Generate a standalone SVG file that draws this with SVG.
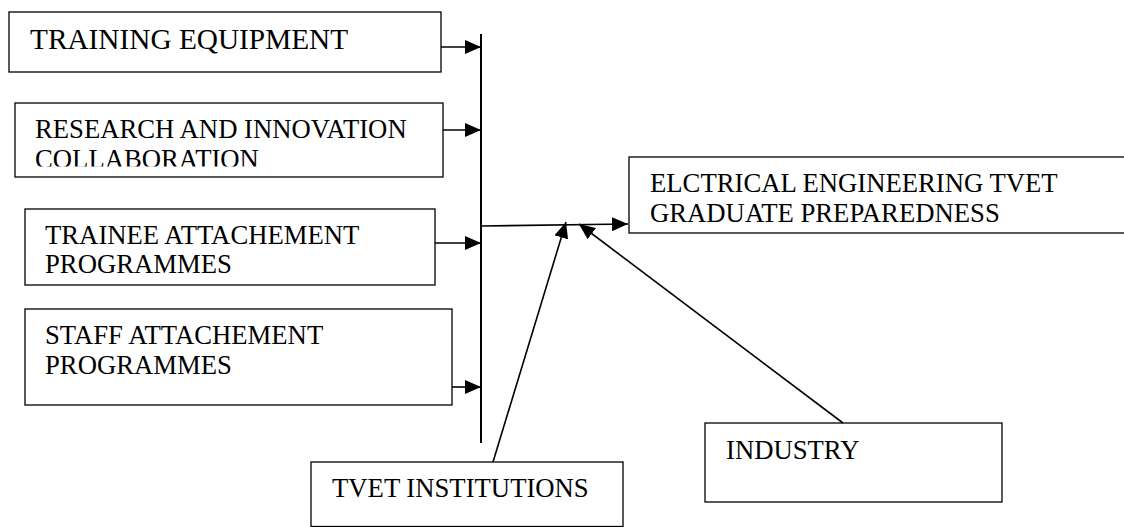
<svg xmlns="http://www.w3.org/2000/svg" width="1124" height="527" viewBox="0 0 1124 527">
  <style>
    .box { fill: #ffffff; stroke: #000000; stroke-width: 1.3; }
    .conn { stroke: #000000; stroke-width: 1.6; fill: none; }
    .bus { stroke: #000000; stroke-width: 2; fill: none; }
  </style>
  <defs>
    <marker id="arrow" viewBox="0 0 16 14" refX="16" refY="7" markerWidth="16" markerHeight="14" markerUnits="userSpaceOnUse" orient="auto">
      <path d="M0,0 L16,7 L0,14 z" fill="#000000"/>
    </marker>
    <clipPath id="clip2">
      <rect x="15" y="103" width="428" height="63.5"/>
    </clipPath>
  </defs>

  <g font-family="Liberation Serif, Times New Roman, DejaVu Serif, serif" font-size="26.7" fill="#000000">
  <g id="training-equipment">
    <rect class="box" x="9" y="12" width="432" height="60"/>
    <text x="30" y="49" font-size="29.3">TRAINING EQUIPMENT</text>
  </g>

  <g id="research-innovation">
    <rect class="box" x="15" y="103" width="428" height="74"/>
    <g clip-path="url(#clip2)">
      <text x="35" y="138">RESEARCH AND INNOVATION</text>
      <text x="35" y="168">COLLABORATION</text>
    </g>
  </g>

  <g id="trainee-attachement">
    <rect class="box" x="25" y="209" width="410" height="76"/>
    <text x="45" y="244">TRAINEE ATTACHEMENT</text>
    <text x="45" y="273">PROGRAMMES</text>
  </g>

  <g id="staff-attachement">
    <rect class="box" x="25" y="309" width="427" height="96"/>
    <text x="45" y="344">STAFF ATTACHEMENT</text>
    <text x="45" y="374">PROGRAMMES</text>
  </g>

  <g id="graduate-preparedness">
    <rect class="box" x="629" y="157" width="500" height="76"/>
    <text x="650" y="192">ELCTRICAL ENGINEERING TVET</text>
    <text x="650" y="222">GRADUATE PREPAREDNESS</text>
  </g>

  <g id="tvet-institutions">
    <rect class="box" x="311" y="462" width="312" height="64.5"/>
    <text x="332" y="497">TVET INSTITUTIONS</text>
  </g>

  <g id="industry">
    <rect class="box" x="705" y="423" width="297" height="79"/>
    <text x="726" y="459">INDUSTRY</text>
  </g>
  </g>

  <g id="connectors">
    <line class="bus" x1="481" y1="34" x2="481" y2="443"/>
    <line class="conn" x1="441" y1="47" x2="481" y2="47" marker-end="url(#arrow)"/>
    <line class="conn" x1="443" y1="130" x2="481" y2="130" marker-end="url(#arrow)"/>
    <line class="conn" x1="435" y1="243" x2="481" y2="243" marker-end="url(#arrow)"/>
    <line class="conn" x1="452" y1="387" x2="481" y2="387" marker-end="url(#arrow)"/>
    <line class="conn" x1="481" y1="226" x2="628" y2="224" marker-end="url(#arrow)"/>
    <line class="conn" x1="493" y1="462" x2="566" y2="222" marker-end="url(#arrow)"/>
    <line class="conn" x1="843" y1="423" x2="579" y2="224" marker-end="url(#arrow)"/>
  </g>
</svg>
